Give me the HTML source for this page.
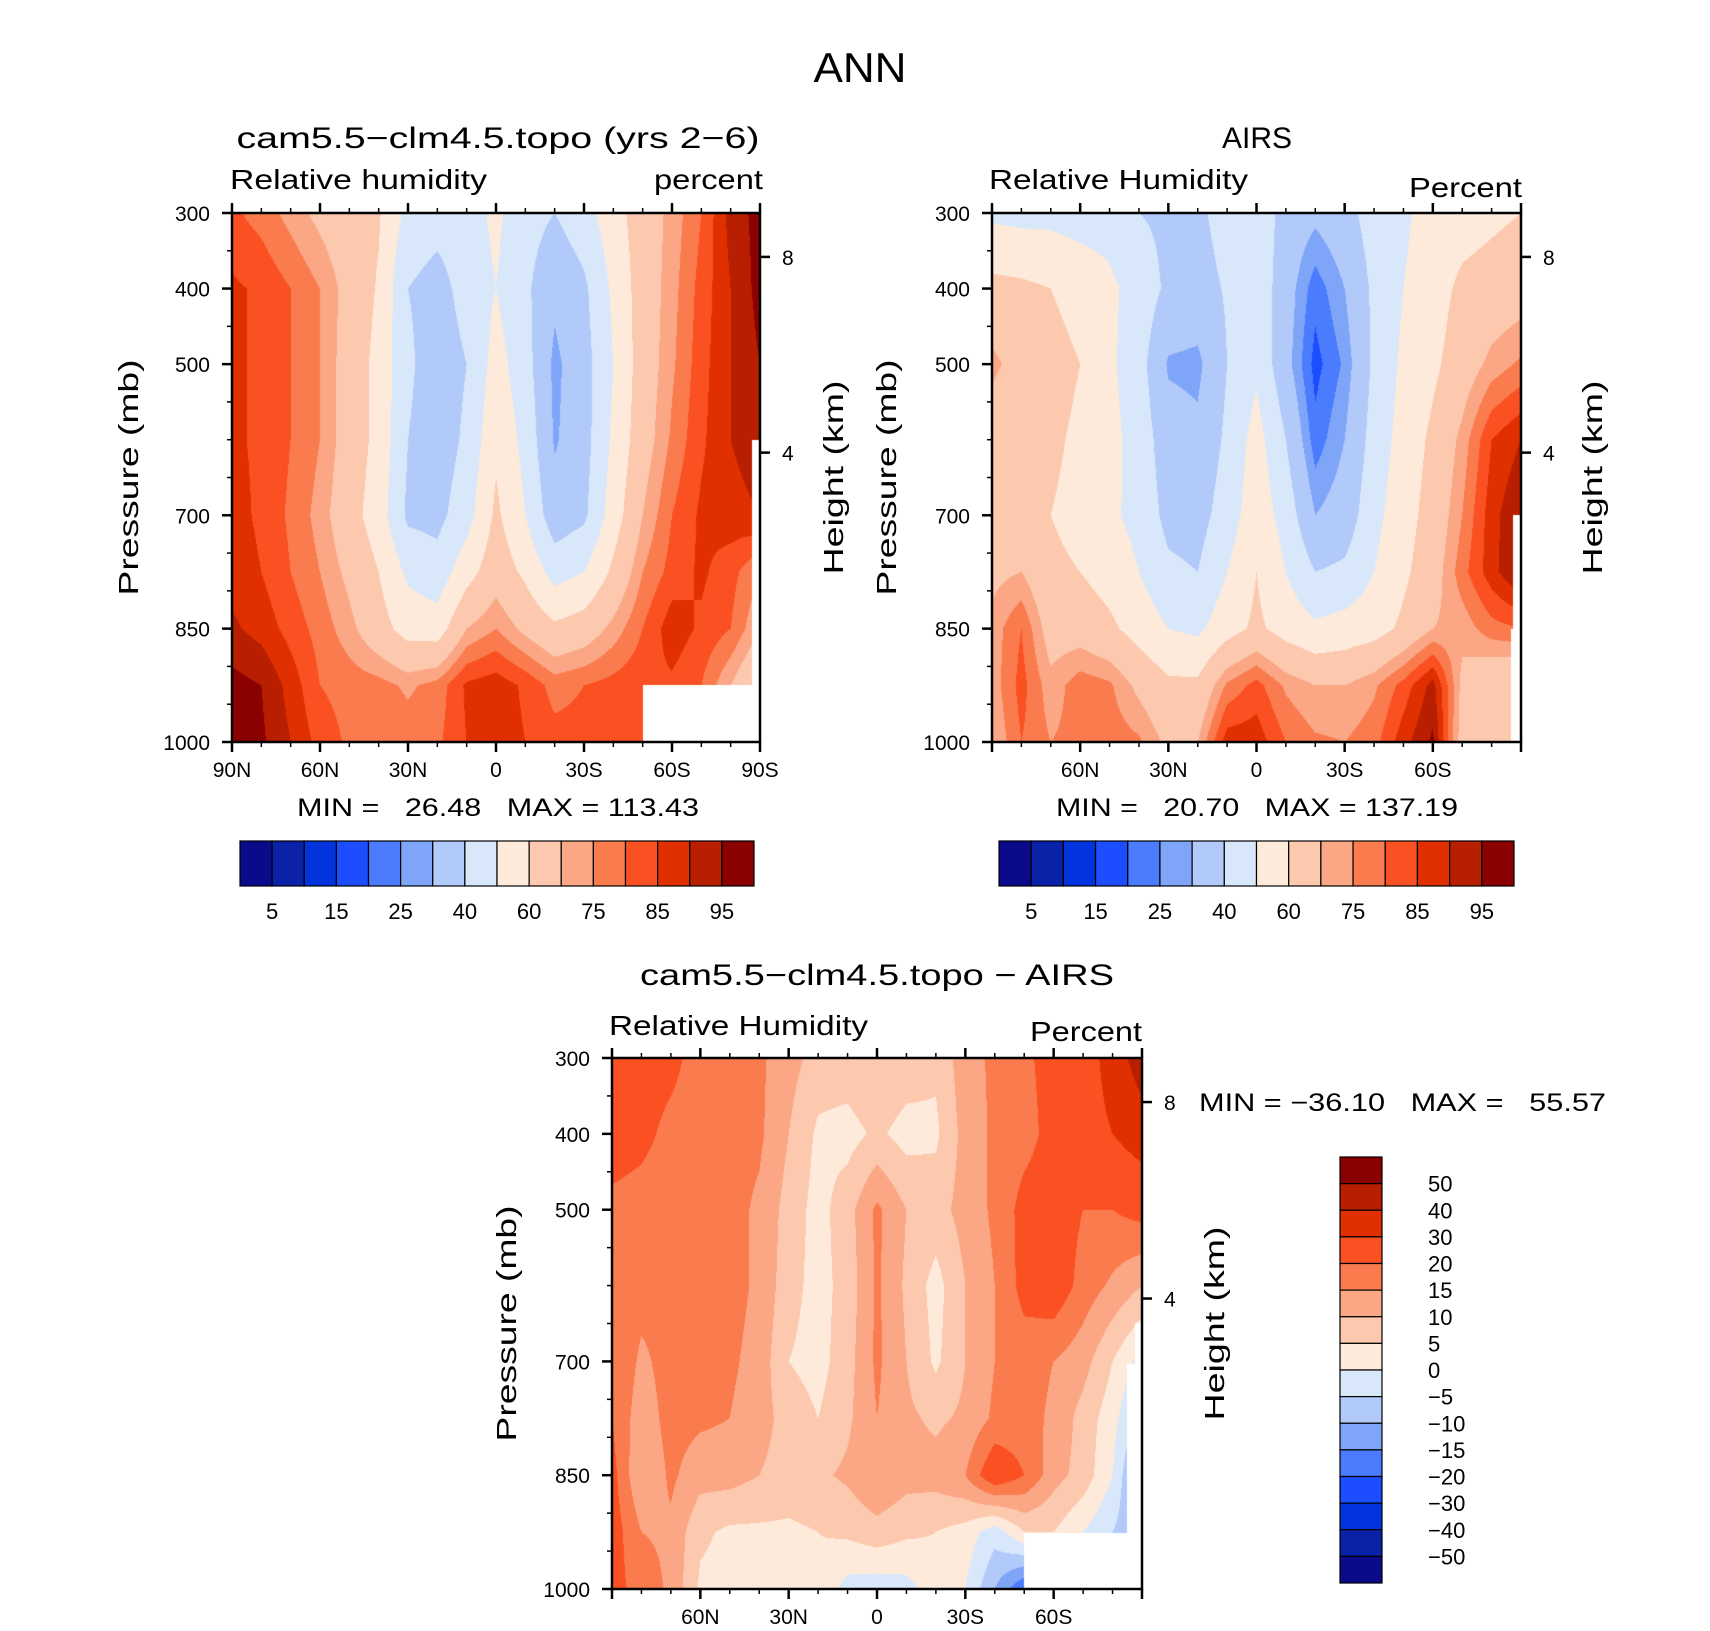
<!DOCTYPE html>
<html><head><meta charset="utf-8">
<style>
html,body{margin:0;padding:0;background:#fff;}
#wrap{position:relative;width:1710px;height:1631px;overflow:hidden;font-family:"Liberation Sans",sans-serif;}
canvas{position:absolute;}
svg{position:absolute;left:0;top:0;}
.pre{white-space:pre;}
</style></head>
<body>
<div id="wrap">
<canvas id="c1" style="left:232px;top:213px" width="528" height="529"></canvas>
<canvas id="c2" style="left:992px;top:213px" width="529" height="529"></canvas>
<canvas id="c3" style="left:612px;top:1058px" width="530" height="531"></canvas>
<svg id="ov" width="1710" height="1631"></svg>
</div>
<script>
const lats=[90,80,70,60,50,40,30,20,10,0,-10,-20,-30,-40,-50,-60,-70,-80,-90];
const pressures=[300,400,500,600,700,775,850,925,1000];
const levelsRH=[5,10,15,20,25,30,40,50,60,70,75,80,85,90,95];
const levelsDiff=[-50,-40,-30,-20,-15,-10,-5,0,5,10,15,20,30,40,50];
const labelsRH=["5","15","25","40","60","75","85","95"];
const labelsDiff=["50","40","30","20","15","10","5","0","\u22125","\u221210","\u221215","\u221220","\u221230","\u221240","\u221250"];
const colors=["#0a0a8a","#0a22a8","#0234dd","#1c4dff","#4a7cfd","#7fa5f9","#b2cafa","#d8e8fa","#feeadb","#fcc9af","#fba785","#fa7c4e","#fa5022","#e03000","#b81e00","#8b0000"];
const model=[
[81,78,73,68,64,61,47,44,46,52,44,40,46,56,65,72,80,92,97],
[86,84,80,75,67,59,40,36,44,50,42,32,38,52,65,73,82,90,97],
[86,84,80,75,66,57,42,34,40,54,44,28,36,50,65,74,83,90,95],
[86,84,80,75,66,57,40,34,42,58,47,29,36,52,66,76,84,90,93],
[87,84,79,73,64,55,38,37,46,62,50,34,38,55,70,80,86,88,90],
[88,85,80,75,68,60,48,44,56,66,58,46,50,62,75,82,86,82,75],
[91,88,83,78,72,64,56,55,70,75,68,62,65,72,80,88,84,80,70],
[97,95,88,80,78,77,74,77,86,88,84,78,80,82,84,84,80,70,60],
[97,96,90,83,79,78,78,79,85,88,85,82,82,82,84,84,80,70,60]];
const airs=[
[48,47,47,46,46,40,38,38,44,47,36,32,36,45,48,55,56,58,60],
[63,62,60,56,52,46,38,36,41,47,34,22,30,42,50,56,62,64,66],
[72,66,64,60,52,44,29,28,40,48,33,18,26,42,52,58,65,72,76],
[64,62,62,58,53,46,34,32,42,54,40,22,30,44,54,62,72,85,90],
[62,62,60,57,52,47,37,36,45,56,46,30,34,47,56,64,75,88,95],
[68,70,62,60,56,50,42,40,50,60,50,40,42,50,58,66,78,88,96],
[72,80,66,66,62,56,50,48,56,62,56,52,54,56,62,70,72,78,80],
[72,82,72,78,76,68,62,62,76,82,74,70,70,74,82,92,68,62,60],
[70,80,75,77,78,76,68,70,88,88,80,76,75,78,88,96,66,60,60]];
const diff=[
[25,24,22,17,17,16,12,8,8,10,8,6,13,16,19,22,24,35,45],
[24,22,18,17,17,16,10,4,3,6,3,4,12,16,18,22,25,30,35],
[18,17,16,17,17,14,8,3,8,16,10,8,12,16,22,23,20,20,22],
[18,17,16,17,17,14,7,3,7,16,9,3,10,15,22,24,18,14,10],
[20,14,17,17,16,13,5,3,8,16,10,4,10,15,17,15,12,5,-2],
[20,12,17,16,15,12,8,5,9,15,11,9,11,16,17,14,8,2,-8],
[22,10,16,12,12,10,8,9,11,15,12,12,15,25,20,12,8,0,-15],
[23,15,14,6,4,4,4,5,6,8,6,5,3,-3,5,5,0,-5,-10],
[22,18,14,4,3,2,3,4,-2,-3,-2,3,0,-10,-20,-20,-20,-20,-20]];
const mask1=[[-50,-90,925,1000],[-87.4,-90,600,1000]];
const mask2=[[-87.4,-90,700,1000],[-86.5,-90,850,1000]];
const mask3=[[-50,-90,926,1000],[-85,-90,703,1000],[-87.5,-90,650,1000]];

function hex(c){return [parseInt(c.substr(1,2),16),parseInt(c.substr(3,2),16),parseInt(c.substr(5,2),16)];}
const rgb=colors.map(hex);
function interp(grid,lat,p){
  let fx=(90-lat)/10; let i=Math.min(Math.floor(fx),lats.length-2); let tx=fx-i;
  let j=0; while(j<pressures.length-2&&p>pressures[j+1])j++;
  let ty=(p-pressures[j])/(pressures[j+1]-pressures[j]);
  const a=grid[j][i],b=grid[j][i+1],c=grid[j+1][i],d=grid[j+1][i+1];
  return (a*(1-tx)+b*tx)*(1-ty)+(c*(1-tx)+d*tx)*ty;
}
function draw(id,grid,levels,masks){
  const cv=document.getElementById(id),ctx=cv.getContext('2d');
  const w=cv.width,h=cv.height,img=ctx.createImageData(w,h);
  for(let y=0;y<h;y++){const p=300+(y+0.5)/h*700;
    for(let x=0;x<w;x++){const lat=90-(x+0.5)/w*180;
      let v=interp(grid,lat,p);let k=0;while(k<levels.length&&v>=levels[k])k++;
      let col=rgb[k];
      for(const m of masks){if(lat<=m[0]&&lat>=m[1]&&p>=m[2]&&p<=m[3]){col=[255,255,255];}}
      const o=(y*w+x)*4;img.data[o]=col[0];img.data[o+1]=col[1];img.data[o+2]=col[2];img.data[o+3]=255;}}
  ctx.putImageData(img,0,0);
}
draw('c1',model,levelsRH,mask1);
draw('c2',airs,levelsRH,mask2);
draw('c3',diff,levelsDiff,mask3);

const NS='http://www.w3.org/2000/svg';
const ov=document.getElementById('ov');
function el(tag,attrs,txt){const e=document.createElementNS(NS,tag);for(const k in attrs)e.setAttribute(k,attrs[k]);if(txt!==undefined)e.textContent=txt;ov.appendChild(e);return e;}
function text(x,y,s,size,anchor,name,rot,len){
  const t=el('text',{x:x,y:y,'font-size':size,'text-anchor':anchor||'middle','font-family':'Liberation Sans, sans-serif',fill:'#000'},s);
  if(rot)t.setAttribute('transform','rotate(-90 '+x+' '+y+')');
  if(len){t.setAttribute('textLength',len);t.setAttribute('lengthAdjust','spacingAndGlyphs');}
  
  
  return t;
}
function line(x1,y1,x2,y2,w){return el('line',{x1:x1,y1:y1,x2:x2,y2:y2,stroke:'#000','stroke-width':w||2});}

text(860,82,'ANN',42,'middle','figure-title',false,93);

function axes(L,T,W,H,xlabels,prefix,titleX,htX){
  const g=el('rect',{x:L,y:T,width:W,height:H,fill:'none',stroke:'#000','stroke-width':2.5});
  
  
  for(let lat=90;lat>=-90;lat-=10){
    const x=L+(90-lat)/180*W;const major=lat%30===0;const len=major?10:5;
    line(x,T+H,x,T+H+len,major?2.5:1.5);line(x,T,x,T-len,major?2.5:1.5);
  }
  for(const lab of xlabels){
    const x=L+(90-lab.v)/180*W;
    text(x,T+H+35,lab.s,21,'middle',prefix+'-x-tick-label');
  }
  for(const p of [300,400,500,700,850,1000]){const y=T+(p-300)/700*H;line(L,y,L-10,y,2.5);
    text(L-22,y+8,String(p),21,'end',prefix+'-y-tick-label');}
  for(const p of [350,450,550,600,650,750,800,900,950]){const y=T+(p-300)/700*H;line(L,y,L-5,y,1.5);}
  for(const h of [{v:8,f:0.083},{v:4,f:0.453}]){const y=T+h.f*H;line(L+W,y,L+W+10,y,2.5);
    text(L+W+22,y+8,String(h.v),21,'start',prefix+'-height-tick-label');}
  text(titleX,T+H/2,'Pressure (mb)',28,'middle',prefix+'-y-axis-title',true,236);
  text(htX,T+H/2,'Height (km)',28,'middle',prefix+'-right-axis-title',true,194);
}
const xl1=[{v:90,s:'90N'},{v:60,s:'60N'},{v:30,s:'30N'},{v:0,s:'0'},{v:-30,s:'30S'},{v:-60,s:'60S'},{v:-90,s:'90S'}];
const xl2=[{v:60,s:'60N'},{v:30,s:'30N'},{v:0,s:'0'},{v:-30,s:'30S'},{v:-60,s:'60S'}];
axes(232,213,528,529,xl1,'model',138,843);
axes(992,213,529,529,xl2,'airs',896,1602);
axes(612,1058,530,531,xl2,'diff',516,1224);

text(498,148,'cam5.5\u2212clm4.5.topo (yrs 2\u22126)',30,'middle','model-plot-title',false,523);
text(230,189,'Relative humidity',28,'start','model-variable-label',false,257);
text(763,189,'percent',28,'end','model-units-label',false,109);
text(1257,148,'AIRS',30,'middle','airs-plot-title',false,70);
text(989,189,'Relative Humidity',28,'start','airs-variable-label',false,259);
text(1522,197,'Percent',28,'end','airs-units-label',false,113);
text(877,985,'cam5.5\u2212clm4.5.topo \u2212 AIRS',30,'middle','diff-plot-title',false,474);
text(609,1035,'Relative Humidity',28,'start','diff-variable-label',false,259);
text(1142,1041,'Percent',28,'end','diff-units-label',false,112);

const mm=text(297,816,'MIN =   26.48   MAX = 113.43',25,'start','model-min-max',false,402);
mm.setAttribute('class','pre');
const mm2=text(1056,816,'MIN =   20.70   MAX = 137.19',25,'start','airs-min-max',false,402);
mm2.setAttribute('class','pre');
const mm3=text(1199,1111,'MIN = \u221236.10   MAX =   55.57',25,'start','diff-min-max',false,407);
mm3.setAttribute('class','pre');

function hbar(L,T,W,H,prefix){
  const bw=W/colors.length;
  colors.forEach((c,k)=>{const r=el('rect',{x:L+k*bw,y:T,width:bw,height:H,fill:c,stroke:'#000','stroke-width':1.2});
    
    });
  labelsRH.forEach((s,n)=>{text(L+(2*n+1)*bw,T+H+33,s,22,'middle',prefix+'-colorbar-label');});
}
hbar(240,841,514,45,'model');
hbar(999,841,515,45,'airs');
(function(){
  const L=1340,T=1157,W=42,H=426,bh=H/16;
  for(let k=0;k<16;k++){const r=el('rect',{x:L,y:T+k*bh,width:W,height:bh,fill:colors[15-k],stroke:'#000','stroke-width':1.2});
    
    }
  labelsDiff.forEach((s,n)=>{text(1428,T+(n+1)*bh+8,s,22,'start','diff-colorbar-label');});
})();
</script>
</body></html>
